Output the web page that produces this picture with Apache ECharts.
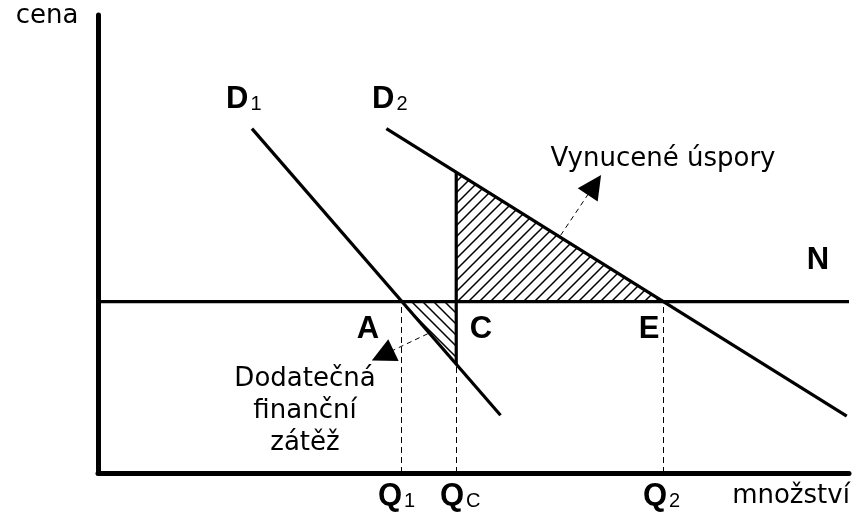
<!DOCTYPE html>
<html>
<head>
<meta charset="utf-8">
<script src="https://cdn.jsdelivr.net/npm/echarts@6/dist/echarts.min.js"></script>
<style>
  html, body { margin: 0; padding: 0; background: #fff; }
  #chart { width: 855px; height: 523px; }
</style>
</head>
<body>
<div id="chart"></div>
<script>
  // osy: množství 0..100, cena 0..100
  var xMax = 100
  var yMax = 100

  // poptávkové křivky a cenová hladina N
  var d1 = [[20.5, 75.2], [53.6, 12.6]]
  var d2 = [[38.4, 75.2], [99.7, 12.4]]
  var nLine = [[0, 37.4], [100, 37.4]]
  var cLine = [[47.7, 65.7], [47.7, 23.8]]

  // šrafované plochy
  var savingsArea = [[47.7, 65.7], [47.7, 37.4], [75.3, 37.4]]
  var burdenArea = [[40.4, 37.4], [47.7, 37.4], [47.7, 23.8]]

  // pomocné svislice Q1, QC, Q2
  var guides = [
    [[40.4, 0], [40.4, 37.4]],
    [[47.7, 0], [47.7, 23.8]],
    [[75.3, 0], [75.3, 37.4]]
  ]

  // šipky k popiskům
  var arrows = [
    [[61.6, 51.9], [66.1, 62.9]],
    [[43.9, 30.4], [37.9, 25.7]]
  ]

  var regular = '"DejaVu Sans", sans-serif'
  var bold = '"Liberation Sans", Arial, sans-serif'

  function hatch(dir) {
    var s = 11
    var c = document.createElement('canvas')
    c.width = s
    c.height = s
    var ctx = c.getContext('2d')
    ctx.strokeStyle = '#000'
    ctx.lineWidth = 1.5
    ctx.beginPath()
    if (dir > 0) {
      ctx.moveTo(-1, s + 1); ctx.lineTo(s + 1, -1)
      ctx.moveTo(-1, 1); ctx.lineTo(1, -1)
      ctx.moveTo(s - 1, s + 1); ctx.lineTo(s + 1, s - 1)
    } else {
      ctx.moveTo(-1, -1); ctx.lineTo(s + 1, s + 1)
      ctx.moveTo(s - 1, -1); ctx.lineTo(s + 1, 1)
      ctx.moveTo(-1, s - 1); ctx.lineTo(1, s + 1)
    }
    ctx.stroke()
    return c
  }

  function areaSeries(points, dir) {
    var img = hatch(dir)
    return {
      type: 'custom',
      silent: true,
      z: 1,
      data: points,
      renderItem: function (params, api) {
        if (params.dataIndex !== 0) return null
        return {
          type: 'polygon',
          shape: { points: points.map(function (p) { return api.coord(p) }) },
          style: { fill: { image: img, repeat: 'repeat' }, stroke: null }
        }
      }
    }
  }

  function solid(data) {
    return {
      type: 'line',
      data: data,
      symbol: 'none',
      silent: true,
      z: 3,
      lineStyle: { color: '#000', width: 3.2 }
    }
  }

  function txt(x, y, text, size, weight, family) {
    return {
      type: 'text',
      x: x,
      y: y,
      silent: true,
      style: {
        text: text,
        fontSize: size,
        fontWeight: weight,
        fontFamily: family,
        fill: '#000',
        align: 'center',
        textAlign: 'center',
        verticalAlign: 'middle',
        textVerticalAlign: 'middle',
        lineHeight: 32
      }
    }
  }

  function sub(x, y, main, idx) {
    return {
      type: 'text',
      x: x,
      y: y,
      silent: true,
      style: {
        text: '{b|' + main + '}{s|' + idx + '}',
        align: 'left',
        textAlign: 'left',
        verticalAlign: 'middle',
        textVerticalAlign: 'middle',
        rich: {
          b: { fontSize: 31, fontWeight: 'bold', fontFamily: bold, fill: '#000', lineHeight: 32, verticalAlign: 'bottom' },
          s: { fontSize: 20, fontWeight: 'normal', fontFamily: bold, fill: '#000', lineHeight: 32, verticalAlign: 'bottom', padding: [0, 0, 1, 2] }
        }
      }
    }
  }

  var chart = echarts.init(document.getElementById('chart'))
  chart.setOption({
    animation: false,
    backgroundColor: '#fff',
    grid: { left: 98, right: 6, top: 15, bottom: 50 },
    xAxis: {
      type: 'value', min: 0, max: xMax,
      axisLine: { lineStyle: { color: '#000', width: 5, cap: 'round' } },
      axisTick: { show: false }, axisLabel: { show: false }, splitLine: { show: false }
    },
    yAxis: {
      type: 'value', min: 0, max: yMax,
      axisLine: { show: true, lineStyle: { color: '#000', width: 5, cap: 'round' } },
      axisTick: { show: false }, axisLabel: { show: false }, splitLine: { show: false }
    },
    series: [
      areaSeries(savingsArea, 1),
      areaSeries(burdenArea, -1),
      solid(d1),
      solid(d2),
      solid(nLine),
      solid(cLine),
      {
        type: 'lines',
        coordinateSystem: 'cartesian2d',
        silent: true,
        z: 2,
        data: guides.map(function (c) { return { coords: c } }),
        lineStyle: { color: '#000', width: 1, type: [6, 4], opacity: 1 }
      },
      {
        type: 'lines',
        coordinateSystem: 'cartesian2d',
        silent: true,
        z: 4,
        symbol: ['none', 'triangle'],
        symbolSize: [19, 24],
        data: arrows.map(function (c) { return { coords: c } }),
        lineStyle: { color: '#000', width: 1, type: [5, 4], opacity: 1 }
      }
    ],
    graphic: [
      txt(47, 16, 'cena', 26, 'normal', regular),
      txt(791, 496, 'množství', 26, 'normal', regular),
      txt(663, 159, 'Vynucené úspory', 26, 'normal', regular),
      txt(305, 411, 'Dodatečná\nfinanční\nzátěž', 26, 'normal', regular),
      txt(818, 260, 'N', 31, 'bold', bold),
      txt(368, 329, 'A', 31, 'bold', bold),
      txt(481, 329, 'C', 31, 'bold', bold),
      txt(649, 329, 'E', 31, 'bold', bold),
      sub(226, 99, 'D', '1'),
      sub(372, 99, 'D', '2'),
      sub(378, 496, 'Q', '1'),
      sub(440, 496, 'Q', 'C'),
      sub(643, 496, 'Q', '2')
    ]
  })
</script>
</body>
</html>
